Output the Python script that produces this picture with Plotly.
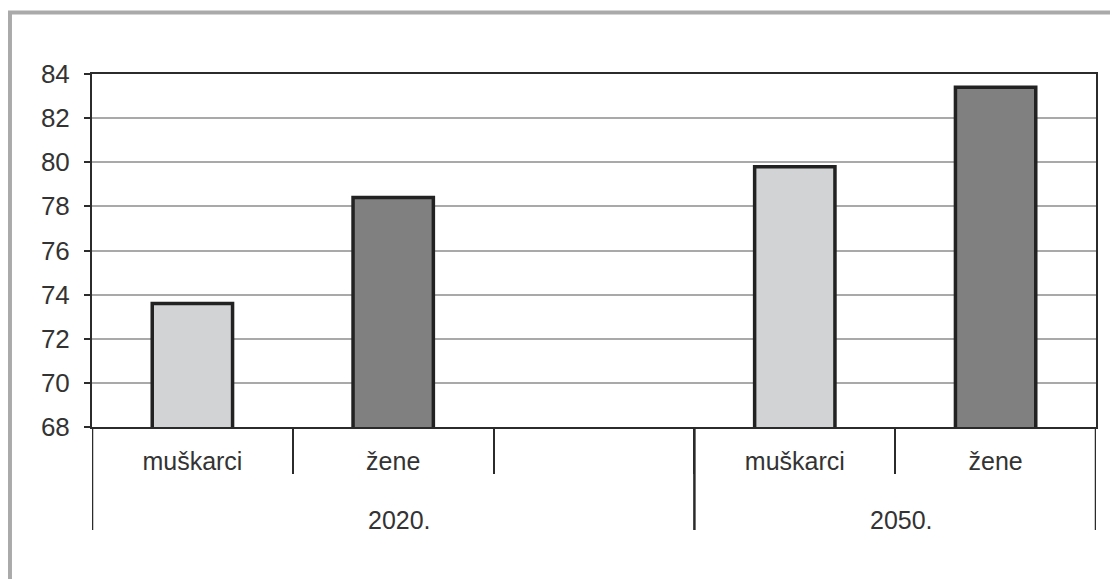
import plotly.graph_objects as go

# Data
years = ["2020.", "2020.", "2020.", "2050.", "2050."]
sexes = ["muškarci", "žene", "", "muškarci", "žene"]
values = [73.6, 78.4, None, 79.8, 83.4]
y_ticks = [68, 70, 72, 74, 76, 78, 80, 82, 84]

colour_map = {"muškarci": "#d2d3d5", "žene": "#808080", "": "#ffffff"}
bar_colours = [colour_map[s] for s in sexes]

FONT = "Liberation Sans, Arial, sans-serif"
TEXT = "#333333"
DARK = "#2b2b2b"

n = len(sexes)
slots = list(range(n))

fig = go.Figure(
    go.Bar(
        x=slots,
        y=values,
        marker=dict(color=bar_colours, line=dict(color="#222222", width=3.5)),
        width=0.4,
        customdata=[[y, s] for y, s in zip(years, sexes)],
        hovertemplate="%{customdata[0]} %{customdata[1]}: %{y}<extra></extra>",
    )
)

# group (year) boundaries and centres, derived from the category lists
group_order = []
for y in years:
    if y not in group_order:
        group_order.append(y)
annotations = []
shapes = []
boundaries = [-0.5]
for g in group_order:
    idx = [i for i, y in enumerate(years) if y == g]
    centre = (min(idx) + max(idx)) / 2
    boundaries.append(max(idx) + 0.5)
    annotations.append(dict(
        x=centre, xref="x", y=0, yref="paper", yanchor="middle",
        yshift=-93, xshift=6, text=g, showarrow=False,
        font=dict(family=FONT, size=25, color=TEXT),
    ))
for b in boundaries:
    shapes.append(dict(
        type="line", xref="x", yref="paper", x0=b, x1=b,
        ysizemode="pixel", yanchor=0, y0=0, y1=-103,
        line=dict(color=DARK, width=2.5),
    ))

# outer grey frame
shapes.append(dict(
    type="rect", xref="paper", yref="paper",
    x0=-0.0817, x1=1.3, y0=-0.8, y1=1.174,
    line=dict(color="#aaaaaa", width=4), fillcolor="rgba(0,0,0,0)",
    layer="below",
))

fig.update_layout(
    width=1110,
    height=571,
    margin=dict(l=84, r=22, t=66, b=152),
    paper_bgcolor="white",
    plot_bgcolor="white",
    showlegend=False,
    font=dict(family=FONT, color=TEXT),
    shapes=shapes,
    annotations=annotations,
)

fig.update_yaxes(
    range=[68, 84],
    tickvals=y_ticks,
    ticktext=[str(v) for v in y_ticks],
    ticks="outside",
    ticklen=6,
    tickwidth=2,
    tickcolor=DARK,
    tickfont=dict(family=FONT, size=26, color=TEXT),
    ticklabelstandoff=9,
    showgrid=True,
    gridcolor="#a9a9a9",
    gridwidth=2,
    showline=True,
    linecolor=DARK,
    linewidth=2,
    mirror=True,
    zeroline=False,
)

label_idx = [i for i, s in enumerate(sexes) if s]
fig.update_xaxes(
    range=[-0.5, n - 0.5],
    tickmode="array",
    tickvals=label_idx,
    ticktext=[sexes[i] for i in label_idx],
    ticks="",
    tickfont=dict(family=FONT, size=25, color=TEXT),
    ticklabelstandoff=11,
    showline=True,
    linecolor=DARK,
    linewidth=2,
    mirror=True,
    showgrid=False,
    zeroline=False,
    minor=dict(
        tickmode="array",
        tickvals=[i + 0.5 for i in range(n - 1)],
        ticks="outside",
        ticklen=45,
        tickwidth=2,
        tickcolor=DARK,
        showgrid=False,
    ),
)

fig.write_html("out.html")
